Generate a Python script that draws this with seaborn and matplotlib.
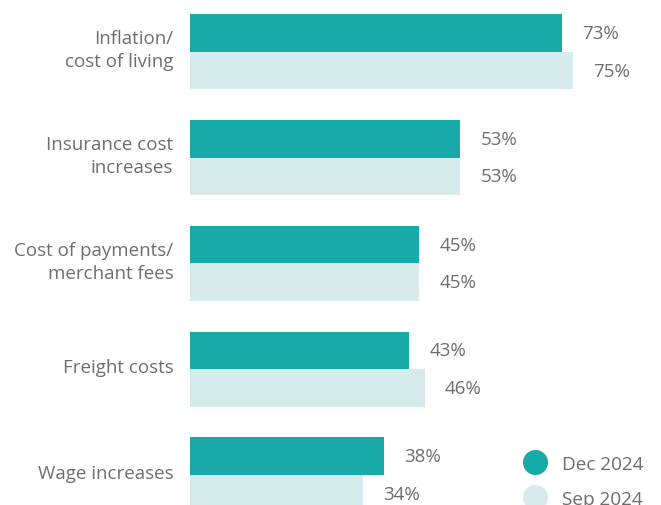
import matplotlib
matplotlib.use("Agg")
import matplotlib.pyplot as plt
from matplotlib.lines import Line2D
import matplotlib.transforms as mtransforms
import seaborn as sns
import pandas as pd

categories = ["Inflation/\ncost of living", "Insurance cost\nincreases",
              "Cost of payments/\nmerchant fees", "Freight costs", "Wage increases"]
dec_2024 = [73, 53, 45, 43, 38]
sep_2024 = [75, 53, 45, 46, 34]
series = ["Dec 2024", "Sep 2024"]
colors = ["#17aaa9", "#d6ebec"]
text_color = "#6d6e71"

df = pd.DataFrame({
    "category": categories * 2,
    "value": dec_2024 + sep_2024,
    "series": [series[0]] * len(categories) + [series[1]] * len(categories),
})

sns.set_theme(style="white")
plt.rcParams['font.family'] = ['Open Sans', 'DejaVu Sans']

fig = plt.figure(figsize=(6.61, 5.06), dpi=100)
ax = fig.add_axes([190 / 661, 0, 457 / 661, 1])

sns.barplot(data=df, y="category", x="value", hue="series", orient="h",
            palette=colors, width=0.71, saturation=1, ax=ax, legend=False,
            linewidth=0, edgecolor="none")

ax.set_xlim(0, 457 / 5.1)
ax.set_ylim(4.285, -0.5)
for s in ax.spines.values():
    s.set_visible(False)
ax.set_xticks([])
ax.set_xlabel("")
ax.set_ylabel("")
ax.set_yticks(range(len(categories)))
ax.set_yticklabels(categories, linespacing=1.38, fontsize=13.5, color=text_color,
                   ha="right", va="center")
ax.tick_params(axis="y", length=0, pad=12)
offset = mtransforms.ScaledTranslation(0, 1.5 / 72, fig.dpi_scale_trans)
for lbl in ax.get_yticklabels():
    lbl.set_transform(lbl.get_transform() + offset)

for cont in ax.containers:
    ax.bar_label(cont, labels=[f"{v:.0f}%" for v in cont.datavalues],
                 padding=14.5, fontsize=13.5, color=text_color)

handles = [Line2D([0], [0], marker="o", linestyle="", markersize=17,
                  markerfacecolor=c, markeredgecolor=c) for c in colors]
fig.legend(handles, series, loc="upper left", bbox_to_anchor=(508 / 661, 1 - 448 / 506),
           frameon=False, fontsize=13.7, labelcolor=text_color,
           handletextpad=0.45, labelspacing=0.9, borderaxespad=0)

fig.savefig("out.png", dpi=100)
